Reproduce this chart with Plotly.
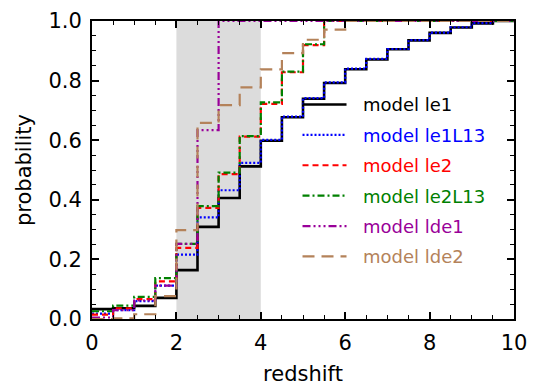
import plotly.graph_objects as go

# bin left edges (redshift), bin width 0.5
bin_left = [0.0, 0.5, 1.0, 1.5, 2.0, 2.5, 3.0, 3.5, 4.0, 4.5,
            5.0, 5.5, 6.0, 6.5, 7.0, 7.5, 8.0, 8.5, 9.0, 9.5]
z_max = 10.0

le1 = [0.033, 0.036, 0.044, 0.071, 0.164, 0.309, 0.406, 0.512, 0.598, 0.677,
       0.739, 0.792, 0.838, 0.871, 0.905, 0.935, 0.960, 0.978, 0.992, 1.0]
le1L13 = [0.018, 0.030, 0.060, 0.112, 0.216, 0.341, 0.432, 0.524, 0.601, 0.679,
          0.741, 0.794, 0.840, 0.873, 0.906, 0.936, 0.961, 0.979, 0.993, 1.0]
le2 = [0.015, 0.036, 0.067, 0.126, 0.239, 0.373, 0.486, 0.612, 0.722, 0.828,
       0.919, 1.0, 1.0, 1.0, 1.0, 1.0, 1.0, 1.0, 1.0, 1.0]
le2L13 = [0.026, 0.045, 0.074, 0.137, 0.252, 0.379, 0.491, 0.614, 0.727, 0.830,
          0.922, 1.0, 1.0, 1.0, 1.0, 1.0, 1.0, 1.0, 1.0, 1.0]
lde1 = [0.005, 0.030, 0.062, 0.112, 0.252, 0.634, 1.0, 1.0, 1.0, 1.0,
        1.0, 1.0, 1.0, 1.0, 1.0, 1.0, 1.0, 1.0, 1.0, 1.0]
lde2 = [0.0, 0.002, 0.016, 0.077, 0.298, 0.658, 0.718, 0.777, 0.838, 0.892,
        0.937, 0.971, 1.0, 1.0, 1.0, 1.0, 1.0, 1.0, 1.0, 1.0]

series_names = ["model le1", "model le1L13", "model le2",
                "model le2L13", "model lde1", "model lde2"]
series_values = [le1, le1L13, le2, le2L13, lde1, lde2]
colors = ["#000000", "#0000ff", "#ff0000", "#008000", "#990099", "#b4825a"]
dashes = ["solid", "2px,2px", "6px,4px", "7px,3px,2px,3px",
          "8px,3px,2px,3px,2px,3px,2px,3px", "12px,7px"]
widths = [2.6, 2.2, 2.2, 2.2, 2.2, 2.2]

shade_range = [2.0, 4.0]

x_ticks = [0, 2, 4, 6, 8, 10]
y_ticks = [0.0, 0.2, 0.4, 0.6, 0.8, 1.0]
y_ticklabels = ["0.0", "0.2", "0.4", "0.6", "0.8", "1.0"]

FONT = "DejaVu Sans"

fig = go.Figure()

xs = bin_left + [z_max]
for i, (name, vals) in enumerate(zip(series_names, series_values)):
    fig.add_trace(go.Scatter(
        x=xs, y=vals + [vals[-1]], mode="lines",
        line=dict(shape="hv", color=colors[i], width=widths[i], dash=dashes[i]),
        name=f"<span style='color:{colors[i]}'>\u00a0\u00a0{name}</span>",
        legendgroup=f"g{i}",
    ))

fig.add_vrect(x0=shade_range[0], x1=shade_range[1], fillcolor="#dcdcdc",
              opacity=1, line_width=0, layer="below")

axis_common = dict(
    showline=True, linecolor="black", linewidth=2, mirror="ticks",
    ticks="inside", ticklen=7, tickwidth=1.5, tickcolor="black",
    showgrid=False, zeroline=False, ticklabeloverflow="allow",
    tickfont=dict(family=FONT, size=21, color="black"),
)

fig.update_xaxes(range=[0, 10], tickvals=x_ticks,
                 minor=dict(dtick=0.5, ticks="inside", ticklen=4, tickwidth=1.2, tickcolor="black"),
                 title=dict(text="redshift", font=dict(family=FONT, size=21, color="black"), standoff=12),
                 ticklabelstandoff=4,
                 **axis_common)
fig.update_yaxes(range=[0, 1.0], tickvals=y_ticks, ticktext=y_ticklabels,
                 minor=dict(dtick=0.05, ticks="inside", ticklen=4, tickwidth=1.2, tickcolor="black"),
                 title=dict(text="probability", font=dict(family=FONT, size=21, color="black"), standoff=11),
                 ticklabelstandoff=4,
                 **axis_common)

fig.update_layout(
    width=539, height=388,
    margin=dict(l=84, r=33, t=1, b=77),
    plot_bgcolor="white", paper_bgcolor="white",
    showlegend=True,
    legend=dict(x=0.487, y=0.781, xanchor="left", yanchor="top",
                bgcolor="rgba(0,0,0,0)", borderwidth=0,
                font=dict(family=FONT, size=18),
                traceorder="grouped", tracegroupgap=4, itemwidth=44),
)

fig.write_html("out.html")
